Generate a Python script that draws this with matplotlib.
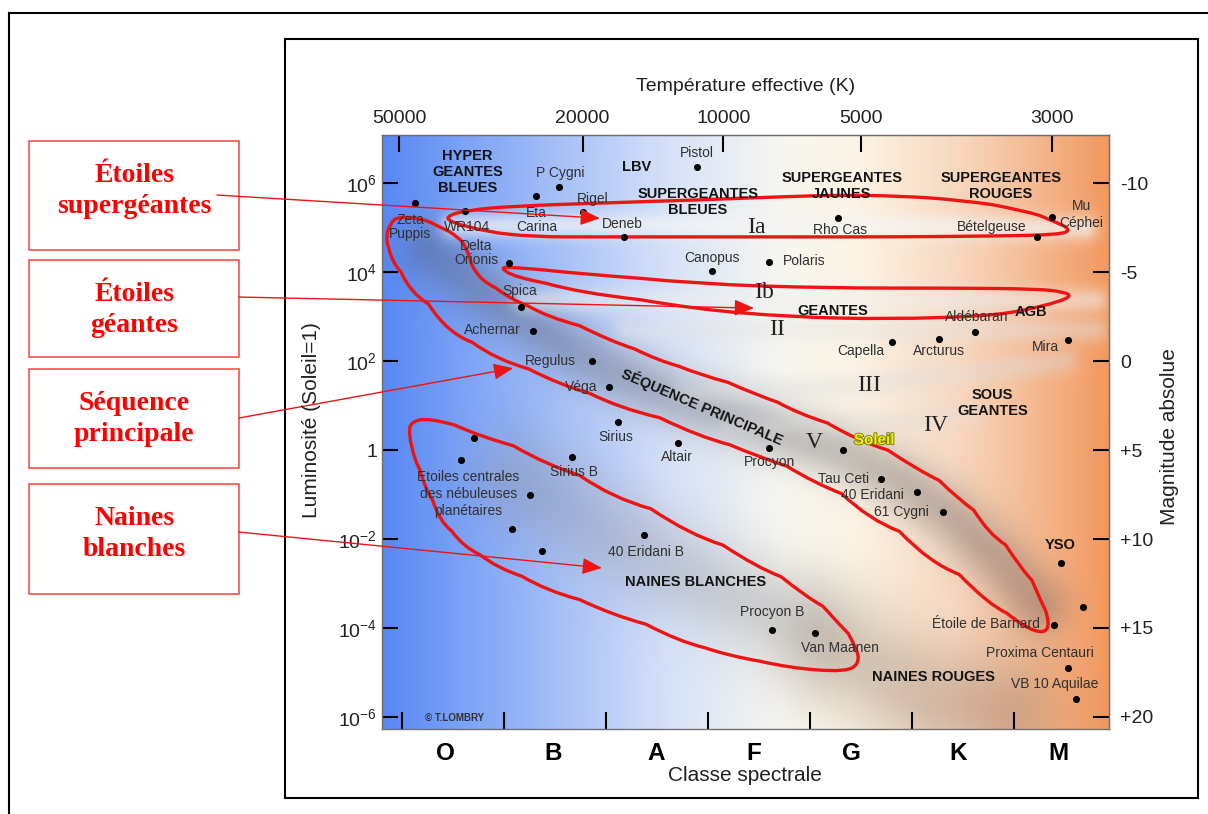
import numpy as np
import matplotlib.pyplot as plt
import matplotlib.patheffects as pe
from matplotlib.colors import LinearSegmentedColormap, to_rgb
from matplotlib.lines import Line2D
from matplotlib.patches import PathPatch, Rectangle
from matplotlib.path import Path
from matplotlib.ticker import NullLocator

plt.rcParams['font.family'] = ['Liberation Sans', 'DejaVu Sans']
plt.rcParams['mathtext.fontset'] = 'custom'
plt.rcParams['mathtext.rm'] = 'Liberation Sans'
plt.rcParams['mathtext.it'] = 'Liberation Sans:italic'
plt.rcParams['mathtext.bf'] = 'Liberation Sans:bold'

# x axis is in spectral-class units (O = 0..1, B = 1..2, ... M = 6..7), y is log10(L/Lsun)
classes = ['O', 'B', 'A', 'F', 'G', 'K', 'M']
class_label_x = [0.43, 1.48, 2.49, 3.45, 4.41, 5.45, 6.43]
class_bounds = [0, 1, 2, 3, 4, 5, 6]
temp_labels = ['50000', '20000', '10000', '5000', '3000']
temp_x = [-0.03, 1.77, 3.15, 4.50, 6.37]
lum_exp = [6, 4, 2, 0, -2, -4, -6]
mag_ticks = [-10, -5, 0, 5, 10, 15, 20]

# named stars (black dots)
dot_x = [0.13, 0.62, 1.31, 1.54, 1.77, 2.18, 2.89, 1.05, 3.04, 3.60, 4.27, 6.22, 6.37,
         1.17, 1.28, 1.86, 2.03, 2.12, 2.71, 3.60, 4.32, 4.70, 5.05, 5.30,
         1.67, 0.71, 0.58, 1.25, 1.08, 1.37, 2.37, 3.63, 4.05,
         6.39, 6.46, 6.68, 6.53, 6.61, 4.80, 5.26, 5.62, 6.53]
dot_logl = [5.55, 5.37, 5.71, 5.91, 5.35, 4.79, 6.36, 4.20, 4.02, 4.22, 5.21, 4.79, 5.24,
            3.21, 2.67, 2.00, 1.42, 0.63, 0.16, 0.04, 0.00, -0.65, -0.94, -1.39,
            -0.16, 0.27, -0.22, -1.01, -1.78, -2.27, -1.91, -4.04, -4.11,
            -3.93, -2.54, -3.53, -4.90, -5.60, 2.43, 2.49, 2.65, 2.47]

star_labels = ['Zeta\nPuppis', 'WR104', 'Eta\nCarina', 'P Cygni', 'Rigel', 'Deneb', 'Pistol',
               'Delta\nOrionis', 'Canopus', 'Polaris', 'Rho Cas', 'Bételgeuse', 'Mu\nCéphei',
               'Spica', 'Achernar', 'Regulus', 'Véga', 'Sirius', 'Altair', 'Procyon',
               'Tau Ceti', '40 Eridani', '61 Cygni', 'Sirius B',
               'Etoiles centrales\ndes nébuleuses\nplanétaires', '40 Eridani B',
               'Procyon B', 'Van Maanen', 'Étoile de Barnard', 'Proxima Centauri',
               'VB 10 Aquilae', 'Capella', 'Arcturus', 'Aldébaran', 'Mira']
label_x = [0.08, 0.64, 1.32, 1.55, 1.87, 2.16, 2.89, 0.73, 3.04, 3.94,
           4.29, 5.78, 6.66, 1.15, 0.89, 1.45, 1.76, 2.10, 2.69, 3.60,
           4.33, 4.61, 4.90, 1.69, 0.65, 2.39, 3.63, 4.29, 5.72, 6.25,
           6.40, 4.50, 5.26, 5.63, 6.31]
label_logl = [5.01, 5.01, 5.17, 6.22, 5.64, 5.08, 6.67, 4.43, 4.31, 4.25,
              4.94, 5.01, 5.30, 3.57, 2.70, 2.00, 1.42, 0.29, -0.16, -0.27,
              -0.65, -1.01, -1.39, -0.49, -0.99, -2.29, -3.64, -4.45, -3.91, -4.56,
              -5.26, 2.22, 2.22, 2.99, 2.31]

group_labels = ['HYPER\nGEANTES\nBLEUES', 'LBV', 'SUPERGEANTES\nBLEUES', 'SUPERGEANTES\nJAUNES',
                'SUPERGEANTES\nROUGES', 'GEANTES', 'AGB', 'SOUS\nGEANTES',
                'NAINES BLANCHES', 'NAINES ROUGES', 'YSO']
group_x = [0.64, 2.30, 2.90, 4.31, 5.87, 4.22, 6.16, 5.79, 2.88, 5.21, 6.45]
group_logl = [6.25, 6.36, 5.57, 5.93, 5.93, 3.12, 3.10, 1.06, -2.97, -5.10, -2.13]

roman = ['Ia', 'Ib', 'II', 'III', 'IV', 'V']
roman_x = [3.47, 3.55, 3.68, 4.58, 5.23, 4.04]
roman_logl = [4.99, 3.53, 2.70, 1.46, 0.56, 0.18]

# hand drawn red loops (class, log L)
loop_supergiants = [(0.42, 5.24), (0.64, 5.39), (1.09, 5.48), (1.94, 5.55), (2.92, 5.62),
                    (3.70, 5.69), (4.29, 5.73), (4.87, 5.71), (5.46, 5.62), (6.08, 5.39),
                    (6.41, 5.12), (6.56, 4.94), (6.44, 4.84), (5.85, 4.81), (4.87, 4.79),
                    (3.89, 4.79), (2.92, 4.79), (1.94, 4.79), (1.28, 4.79), (0.83, 4.90),
                    (0.50, 5.10)]
loop_giants = [(0.96, 4.10), (1.09, 4.11), (1.74, 3.96), (2.92, 3.73), (4.12, 3.64),
               (5.43, 3.64), (6.24, 3.62), (6.49, 3.55), (6.56, 3.46), (6.44, 3.33),
               (6.14, 3.15), (5.75, 3.01), (4.77, 2.94), (3.80, 2.99), (2.92, 3.15),
               (1.74, 3.53), (1.09, 3.89)]
loop_main_seq = [(-0.05, 5.24), (0.18, 5.21), (0.37, 5.01), (0.55, 4.79), (0.64, 4.49),
                 (0.68, 4.13), (0.78, 3.80), (1.06, 3.39), (1.42, 2.99), (2.06, 2.43),
                 (2.50, 2.02), (2.92, 1.69), (3.47, 1.24), (3.89, 0.81), (4.45, 0.22),
                 (5.07, -0.47), (5.46, -1.12), (5.75, -1.89), (6.08, -2.70), (6.27, -3.44),
                 (6.35, -3.93), (6.29, -4.13), (6.10, -3.98), (5.75, -3.48), (5.17, -2.54),
                 (4.58, -1.57), (4.04, -0.74), (3.50, -0.16), (2.92, 0.29), (2.13, 0.94),
                 (1.55, 1.46), (0.93, 2.02), (0.44, 2.63), (0.08, 3.53), (-0.10, 4.22),
                 (-0.16, 4.72), (-0.12, 5.06)]
loop_white_dwarfs = [(0.08, 0.63), (0.27, 0.72), (0.76, 0.31), (1.42, -0.34), (2.06, -1.08),
                     (2.82, -1.91), (3.47, -2.63), (3.96, -3.30), (4.29, -3.93), (4.46, -4.49),
                     (4.48, -4.81), (4.35, -4.99), (3.80, -4.90), (3.21, -4.63), (2.72, -4.31),
                     (2.06, -3.71), (1.42, -3.17), (0.93, -2.65), (0.60, -2.18), (0.37, -1.62),
                     (0.23, -0.90), (0.12, -0.22), (0.07, 0.27)]

box_texts = ['Étoiles\nsupergéantes', 'Étoiles\ngéantes', 'Séquence\nprincipale', 'Naines\nblanches']
box_top = [0.8268, 0.6806, 0.5467, 0.4054]
box_bottom = [0.6929, 0.5614, 0.4251, 0.2703]
box_text_y = [0.7654, 0.6192, 0.4853, 0.3440]
arrow_start = [(0.1796, 0.7604), (0.1978, 0.6351), (0.1978, 0.4865), (0.1978, 0.3464)]
arrow_target = [(1.94, 5.21), (3.45, 3.19), (1.09, 1.84), (1.96, -2.65)]

XLIM = (-0.196, 6.93)
YLIM = (-6.27, 7.08)
RED = '#ee1414'

fig = plt.figure(figsize=(12.08, 8.14), dpi=100)
pos = [382 / 1208, 1 - 729 / 814, 727 / 1208, 594 / 814]

# ---- background: temperature colour gradient + soft haze along the star bands
bg = fig.add_axes(pos, zorder=0)
grad = LinearSegmentedColormap.from_list('hr', [
    (0.0, '#5888f4'), (0.10, '#78a0f6'), (0.25, '#a8c2f8'), (0.40, '#d8e3f8'),
    (0.55, '#f7f6f0'), (0.65, '#fcf4e4'), (0.78, '#f8dbc3'), (0.88, '#f5bf9a'),
    (1.0, '#f29960')])
gx = np.linspace(XLIM[0], XLIM[1], 727)
gy = np.linspace(YLIM[0], YLIM[1], 594)
GX, GY = np.meshgrid(gx, gy)
img = grad((GX - XLIM[0]) / (XLIM[1] - XLIM[0]))[..., :3]

haze = [
    ([(0.27, 4.49), (0.76, 3.60), (1.35, 2.70), (1.94, 1.91), (2.72, 1.12), (3.50, 0.56),
      (4.29, -0.04), (4.87, -0.67), (5.36, -1.46), (5.85, -2.47), (6.24, -3.48)], 21, 0.33, '#4e4e58'),
    ([(0.5, 5.05), (3.0, 5.05), (6.7, 5.0)], 9, 0.7, '#f4f4f4'),
    ([(1.2, 3.37), (6.8, 3.37)], 9, 0.55, '#eeeeee'),
    ([(2.2, 2.7), (6.8, 2.7)], 9, 0.45, '#e4e4e4'),
    ([(2.8, 1.3), (4.5, 1.45), (6.5, 2.0)], 9, 0.4, '#dedede'),
    ([(3.2, 0.5), (4.5, 0.6), (5.6, 0.8)], 8, 0.35, '#dedede'),
    ([(1.15, -0.67), (2.13, -2.02), (3.11, -3.15), (3.89, -3.82)], 35, 0.33, '#8a8a92'),
    ([(4.3, -4.6), (5.2, -5.6), (5.9, -5.9)], 40, 0.3, '#7a6050'),
]
X, Y = GX * 102.2, GY * 44.5
for pts, sig, strength, col in haze:
    d = np.full(X.shape, np.inf)
    p = [(a * 102.2, b * 44.5) for a, b in pts]
    for (x0, y0), (x1, y1) in zip(p[:-1], p[1:]):
        dx, dy = x1 - x0, y1 - y0
        t = np.clip(((X - x0) * dx + (Y - y0) * dy) / (dx * dx + dy * dy), 0, 1)
        d = np.minimum(d, np.hypot(X - x0 - t * dx, Y - y0 - t * dy))
    a = (strength * np.exp(-0.5 * (d / sig) ** 2))[..., None]
    img = img * (1 - a) + np.array(to_rgb(col)) * a
bg.imshow(img, extent=(XLIM[0], XLIM[1], YLIM[0], YLIM[1]), origin='lower', aspect='auto')
bg.set_xlim(XLIM)
bg.set_ylim(YLIM)
bg.axis('off')

# ---- main axes
ax = fig.add_axes(pos, zorder=1)
ax.set_facecolor('none')
ax.set_yscale('log')
ax.set_xlim(XLIM)
ax.set_ylim(10 ** YLIM[0], 10 ** YLIM[1])
for s in ax.spines.values():
    s.set_color('#707070')
    s.set_linewidth(1)

ax.set_yticks([10.0 ** e for e in lum_exp])
ax.set_yticklabels(['1' if e == 0 else r'$10^{%d}$' % e for e in lum_exp])
ax.yaxis.set_minor_locator(NullLocator())
ax.tick_params(axis='y', direction='in', length=11.5, width=1.5, labelsize=14, pad=3.5,
               labelcolor='#222222')

ax.set_xticks(class_bounds)
ax.set_xticklabels([])
ax.set_xticks(class_label_x, minor=True)
ax.set_xticklabels(classes, minor=True, fontsize=17.5, fontweight='bold')
ax.tick_params(axis='x', which='major', direction='in', length=12, width=1.5)
ax.tick_params(axis='x', which='minor', length=0, pad=9)

top = ax.secondary_xaxis('top')
top.set_xticks(temp_x)
top.set_xticklabels(temp_labels)
top.tick_params(direction='in', length=12, width=1.5, labelsize=14, pad=6, labelcolor='#222222')
top.spines['top'].set_color('#707070')

right = ax.secondary_yaxis('right')
right.set_yticks([10 ** ((5 - m) / 2.5) for m in mag_ticks])
right.set_yticklabels([('+%d' % m) if m > 0 else str(m) for m in mag_ticks])
right.yaxis.set_minor_locator(NullLocator())
right.tick_params(direction='in', length=11.5, width=1.5, labelsize=14, pad=8, labelcolor='#222222')
right.spines['right'].set_color('#707070')

fig.text(0.617, 0.894, 'Température effective (K)', ha='center', va='center', fontsize=14, color='#222222')
fig.text(0.617, 0.0467, 'Classe spectrale', ha='center', va='center', fontsize=15, color='#222222')
fig.text(0.258, 0.484, 'Luminosité (Soleil=1)', rotation=90, ha='center', va='center', fontsize=15, color='#222222')
fig.text(0.9685, 0.464, 'Magnitude absolue', rotation=90, ha='center', va='center', fontsize=15, color='#222222')

# ---- loops
for loop in [loop_supergiants, loop_giants, loop_main_seq, loop_white_dwarfs]:
    pts = [(x, 10 ** l) for x, l in loop]
    n = len(pts)
    mid = lambda a, b: ((a[0] + b[0]) / 2, (a[1] + b[1]) / 2)
    verts = [mid(pts[-1], pts[0])]
    codes = [Path.MOVETO]
    for i in range(n):
        verts += [pts[i], mid(pts[i], pts[(i + 1) % n])]
        codes += [Path.CURVE3, Path.CURVE3]
    ax.add_patch(PathPatch(Path(verts, codes), fill=False, ec=RED, lw=2.4, zorder=3))

# ---- stars and labels
ax.scatter(dot_x, [10 ** v for v in dot_logl], s=26, c='black', zorder=4, linewidths=0)
for name, x, l in zip(star_labels, label_x, label_logl):
    ls = 1.25 if name.startswith(('Etoiles', 'Mu')) else 0.95
    ax.text(x, 10 ** l, name, ha='center', va='center', fontsize=10, color='#303030',
            linespacing=ls, zorder=5)
ax.text(4.63, 10 ** 0.22, 'Soleil', ha='center', va='center', fontsize=11, fontweight='bold',
        color='#f2f200', zorder=5,
        path_effects=[pe.withStroke(linewidth=1.3, foreground='#7a7a10')])
for name, x, l in zip(group_labels, group_x, group_logl):
    ax.text(x, 10 ** l, name, ha='center', va='center', fontsize=10.5, fontweight='bold',
            color='#141414', linespacing=1.2, zorder=5)
ax.text(2.94, 10 ** 0.97, 'SÉQUENCE PRINCIPALE', ha='center', va='center', rotation=-23,
        rotation_mode='anchor', fontsize=10.5, fontweight='bold', color='#141414', zorder=5)
for name, x, l in zip(roman, roman_x, roman_logl):
    ax.text(x, 10 ** l, name, ha='center', va='center', fontsize=17, color='#222222',
            family='Liberation Serif', zorder=5)
ax.text(0.23, 10 ** -6.02, '© T.LOMBRY', ha='left', va='center', fontsize=7, fontweight='bold',
        color='#333333', zorder=5)

# ---- red boxes with arrows
for txt, t, b, ty in zip(box_texts, box_top, box_bottom, box_text_y):
    fig.add_artist(Rectangle((0.024, b), 0.1738, t - b, transform=fig.transFigure,
                             fill=False, ec='#ff4040', lw=1.1))
    fig.text(0.111, ty, txt, ha='center', va='center', fontsize=20, fontweight='bold',
             color='#ff0000', family='Liberation Serif', linespacing=1.3)
for (sx, sy), (tx, tl) in zip(arrow_start, arrow_target):
    ax.annotate('', xy=(tx, 10 ** tl), xycoords='data', xytext=(sx, sy),
                textcoords='figure fraction', annotation_clip=False, zorder=6,
                arrowprops=dict(arrowstyle='-|>,head_length=0.6,head_width=0.25',
                                mutation_scale=20, color=RED, lw=1, shrinkA=0, shrinkB=0))

# ---- frames
fig.add_artist(Rectangle((0.236, 0.0197), 0.7557, 0.9324, transform=fig.transFigure,
                         fill=False, ec='black', lw=1.5))
fig.add_artist(Line2D([0.0075, 0.0075], [0, 0.984], transform=fig.transFigure, color='black', lw=1.5))
fig.add_artist(Line2D([0.0075, 1], [0.984, 0.984], transform=fig.transFigure, color='black', lw=1.5))

fig.savefig('out.png', dpi=100)
